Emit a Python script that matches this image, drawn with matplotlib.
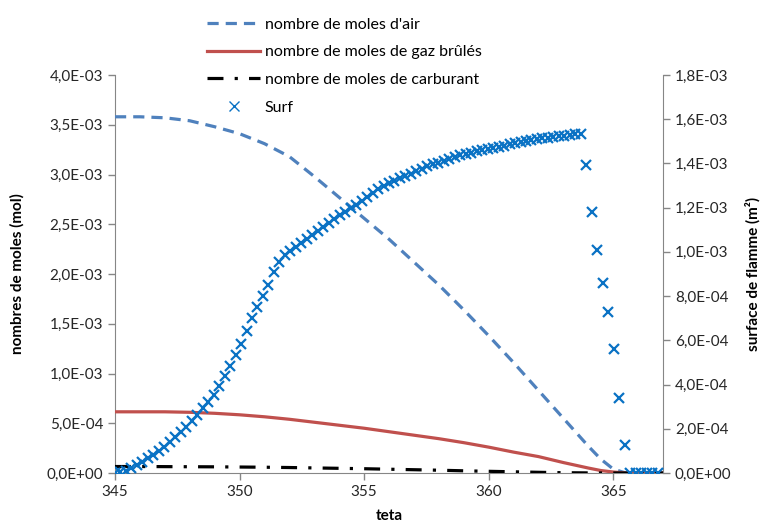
import numpy as np
import matplotlib
matplotlib.use('Agg')
import matplotlib.pyplot as plt
from matplotlib.ticker import FuncFormatter, MultipleLocator

plt.rcParams['font.family'] = ['Lato', 'DejaVu Sans']

# crank angle grid of the surface markers (deg)
teta = [345.00, 345.22, 345.44, 345.66, 345.88, 346.10, 346.32, 346.54, 346.76, 346.98,
        347.20, 347.42, 347.64, 347.86, 348.08, 348.30, 348.52, 348.74, 348.96, 349.18,
        349.40, 349.62, 349.84, 350.06, 350.28, 350.50, 350.72, 350.94, 351.16, 351.38,
        351.60, 351.82, 352.04, 352.26, 352.48, 352.70, 352.92, 353.14, 353.36, 353.58,
        353.80, 354.02, 354.24, 354.46, 354.68, 354.90, 355.12, 355.34, 355.56, 355.78,
        356.00, 356.22, 356.44, 356.66, 356.88, 357.10, 357.32, 357.54, 357.76, 357.98,
        358.20, 358.42, 358.64, 358.86, 359.08, 359.30, 359.52, 359.74, 359.96, 360.18,
        360.40, 360.62, 360.84, 361.06, 361.28, 361.50, 361.72, 361.94, 362.16, 362.38,
        362.60, 362.82, 363.04, 363.26, 363.48, 363.70, 363.92, 364.14, 364.36, 364.58,
        364.80, 365.02, 365.24, 365.46, 365.68, 365.90, 366.12, 366.34, 366.56, 366.78]

# flame surface (x 1e-3 m2)
surf = [0.000, 0.004, 0.010, 0.022, 0.036, 0.052, 0.067, 0.083, 0.100, 0.118,
        0.140, 0.162, 0.185, 0.209, 0.234, 0.263, 0.292, 0.323, 0.355, 0.395,
        0.440, 0.485, 0.535, 0.585, 0.640, 0.700, 0.750, 0.800, 0.850, 0.910,
        0.955, 0.985, 1.005, 1.022, 1.040, 1.058, 1.077, 1.096, 1.114, 1.131,
        1.148, 1.165, 1.181, 1.197, 1.214, 1.231, 1.249, 1.266, 1.283, 1.297,
        1.310, 1.321, 1.332, 1.343, 1.354, 1.365, 1.376, 1.387, 1.396, 1.404,
        1.413, 1.422, 1.430, 1.436, 1.443, 1.449, 1.455, 1.461, 1.466, 1.471,
        1.476, 1.481, 1.486, 1.491, 1.495, 1.500, 1.504, 1.509, 1.513, 1.516,
        1.520, 1.523, 1.526, 1.529, 1.532, 1.535, 1.394, 1.180, 1.010, 0.858,
        0.730, 0.561, 0.340, 0.127, 0.000, 0.000, 0.000, 0.000, 0.000, 0.000]

# crank angle for the mole curves
teta_mol = [345, 346, 347, 348, 349, 350, 351, 352, 353, 354, 355, 356, 357,
            358, 359, 360, 361, 362, 363, 364, 364.5, 365, 365.5, 366, 367]

# moles (x 1e-3 mol)
n_air = [3.58, 3.58, 3.57, 3.54, 3.48, 3.41, 3.31, 3.18, 2.98, 2.77, 2.56, 2.35, 2.12,
         1.89, 1.64, 1.38, 1.11, 0.83, 0.55, 0.27, 0.14, 0.04, 0.0, 0.0, 0.0]
n_gb = [0.615, 0.615, 0.615, 0.61, 0.60, 0.585, 0.565, 0.54, 0.51, 0.48, 0.45, 0.415, 0.38,
        0.345, 0.305, 0.26, 0.21, 0.165, 0.105, 0.05, 0.025, 0.01, 0.0, 0.0, 0.0]
n_carb = [0.065, 0.065, 0.064, 0.063, 0.062, 0.060, 0.058, 0.055, 0.051, 0.047, 0.043, 0.038,
          0.033, 0.028, 0.022, 0.017, 0.012, 0.007, 0.003, 0.001, 0.0, 0.0, 0.0, 0.0, 0.0]

labels = ["nombre de moles d'air", "nombre de moles de gaz brûlés",
          "nombre de moles de carburant", "Surf"]

W, H = 767, 527
fig = plt.figure(figsize=(W / 100, H / 100), dpi=100)
ax = fig.add_axes([115 / W, 1 - 473 / H, (663 - 115) / W, (473 - 75) / H])
ax2 = ax.twinx()

scale = 1e-3
l1, = ax.plot(teta_mol, np.array(n_air) * scale, color='#4F81BD', lw=2.3,
              dashes=(3.5, 2.2), zorder=3)
l2, = ax.plot(teta_mol, np.array(n_gb) * scale, color='#C0504D', lw=2.3, zorder=3)
l3, = ax.plot(teta_mol, np.array(n_carb) * scale, color='black', lw=2.3,
              dashes=(5, 3.5, 1, 3.5), zorder=3)
l4, = ax2.plot(teta, np.array(surf) * scale, ls='none', marker='x', ms=7, mew=1.6,
               color='#0A72C4', zorder=4)

sci = FuncFormatter(lambda v, p: f"{v:.1E}".replace('.', ','))
ax.set_xlim(345, 367)
ax.set_ylim(0, 4e-3)
ax2.set_ylim(0, 1.8e-3)
ax.xaxis.set_major_locator(MultipleLocator(5))
ax.yaxis.set_major_locator(MultipleLocator(0.5e-3))
ax2.yaxis.set_major_locator(MultipleLocator(0.2e-3))
ax.yaxis.set_major_formatter(sci)
ax2.yaxis.set_major_formatter(sci)

gray = '#868686'
for a in (ax, ax2):
    a.spines['top'].set_visible(False)
    for s in ('left', 'right', 'bottom'):
        a.spines[s].set_color(gray)
    a.tick_params(colors=gray, labelcolor='#262626', labelsize=11, length=5, width=1)
ax.spines['right'].set_visible(False)
ax2.spines['left'].set_visible(False)
ax2.spines['bottom'].set_visible(False)

ax.set_xlabel('teta', fontsize=11, fontweight='bold', labelpad=7)
ax.set_ylabel('nombres de moles (mol)', fontsize=11, fontweight='bold', labelpad=16)
ax2.set_ylabel('surface de flamme (m²)', fontsize=11, fontweight='bold', labelpad=10)

leg = fig.legend([l1, l2, l3, l4], labels, loc='upper left',
                 bbox_to_anchor=(193 / W, 1 - 3 / H), frameon=False, fontsize=11.5,
                 handlelength=3.3, labelspacing=0.85, handletextpad=0.3)
leg.legend_handles[3].set_markeredgewidth(1.0)

fig.savefig('out.png', dpi=100)
